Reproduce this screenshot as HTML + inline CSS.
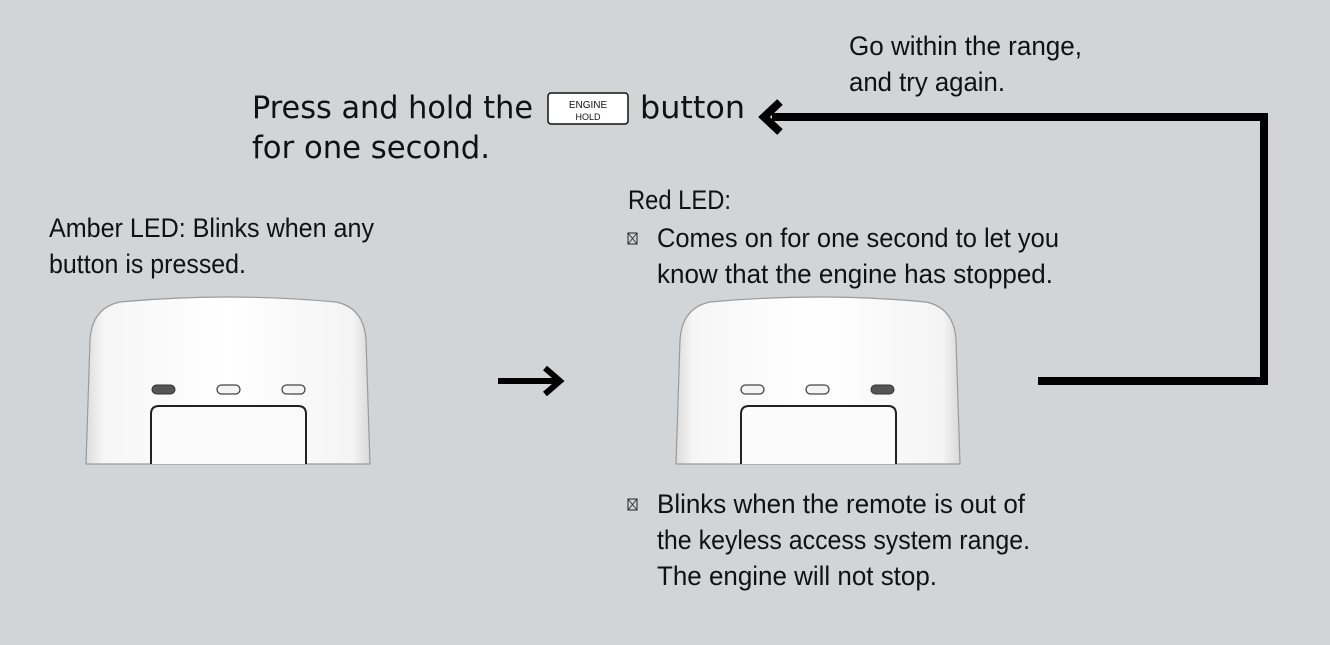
<!DOCTYPE html>
<html><head><meta charset="utf-8"><style>
html,body{margin:0;padding:0;background:#d3d4d6;}
svg{display:block}
.t{font-family:"Liberation Sans",sans-serif;fill:#111;font-size:27px;}
.h{font-family:"DejaVu Sans","Liberation Sans",sans-serif;fill:#111;font-size:31px;}
</style></head><body>
<svg width="1330" height="645" viewBox="0 0 1330 645" xmlns="http://www.w3.org/2000/svg">
<defs>
<linearGradient id="g" x1="0" x2="1" y1="0" y2="0">
<stop offset="0" stop-color="#dcdcdc"/><stop offset="0.06" stop-color="#f6f6f6"/><stop offset="0.5" stop-color="#ffffff"/><stop offset="0.94" stop-color="#f4f4f4"/><stop offset="1" stop-color="#d8d8d8"/>
</linearGradient>
</defs>
<rect width="1330" height="645" fill="#d3d4d6"/>

<!-- Left remote -->
<g>
<path d="M86,464 L90,340 Q92,308 120,302 Q228,292 336,302 Q364,308 366,340 L370,464 Z" fill="url(#g)" stroke="#9a9a9a" stroke-width="1.2"/>
<rect x="152" y="385" width="23" height="9" rx="4.5" fill="#555" stroke="#333" stroke-width="1"/>
<rect x="217" y="385" width="23" height="9" rx="4.5" fill="#f4f4f4" stroke="#444" stroke-width="1.3"/>
<rect x="282" y="385" width="23" height="9" rx="4.5" fill="#f4f4f4" stroke="#444" stroke-width="1.3"/>
<path d="M151,464 L151,414 Q151,406 159,406 L298,406 Q306,406 306,414 L306,464" fill="#fbfbfb" stroke="#222" stroke-width="2"/>
</g>
<!-- Right remote -->
<g>
<path d="M676,464 L680,340 Q682,308 710,302 Q818,292 926,302 Q954,308 956,340 L960,464 Z" fill="url(#g)" stroke="#9a9a9a" stroke-width="1.2"/>
<rect x="741" y="385" width="23" height="9" rx="4.5" fill="#f4f4f4" stroke="#444" stroke-width="1.3"/>
<rect x="806" y="385" width="23" height="9" rx="4.5" fill="#f4f4f4" stroke="#444" stroke-width="1.3"/>
<rect x="871" y="385" width="23" height="9" rx="4.5" fill="#555" stroke="#333" stroke-width="1"/>
<path d="M741,464 L741,414 Q741,406 749,406 L888,406 Q896,406 896,414 L896,464" fill="#fbfbfb" stroke="#222" stroke-width="2"/>
</g>

<!-- middle arrow -->
<line x1="498" y1="381" x2="558" y2="381" stroke="#000" stroke-width="6"/>
<polyline points="545,368 560,381 545,394" fill="none" stroke="#000" stroke-width="6"/>

<!-- feedback arrow -->
<polyline points="1038,381 1264,381 1264,117 772,117" fill="none" stroke="#000" stroke-width="8"/>
<polyline points="780,102 764,117 780,132" fill="none" stroke="#000" stroke-width="8"/>

<!-- heading -->
<text class="h" x="252" y="118" textLength="281" lengthAdjust="spacingAndGlyphs">Press and hold the</text>
<rect x="548" y="93" width="80" height="31" rx="3" fill="#fff" stroke="#111" stroke-width="1.5"/>
<text x="588" y="108" text-anchor="middle" font-family="Liberation Sans,sans-serif" font-size="10" fill="#111">ENGINE</text>
<text x="588" y="120" text-anchor="middle" font-family="Liberation Sans,sans-serif" font-size="9" fill="#111">HOLD</text>
<text class="h" x="640" y="118" textLength="105" lengthAdjust="spacingAndGlyphs">button</text>
<text class="h" x="252" y="158" textLength="238" lengthAdjust="spacingAndGlyphs">for one second.</text>

<text class="t" x="849" y="55" textLength="233" lengthAdjust="spacingAndGlyphs">Go within the range,</text>
<text class="t" x="849" y="91" textLength="156" lengthAdjust="spacingAndGlyphs">and try again.</text>

<text class="t" x="49" y="237" textLength="325" lengthAdjust="spacingAndGlyphs">Amber LED: Blinks when any</text>
<text class="t" x="49" y="273" textLength="197" lengthAdjust="spacingAndGlyphs">button is pressed.</text>

<text class="t" x="628" y="209" textLength="103" lengthAdjust="spacingAndGlyphs">Red LED:</text>
<rect x="628" y="233" width="9" height="11" fill="none" stroke="#222" stroke-width="1"/>
<path d="M628,233 L637,244 M637,233 L628,244" stroke="#222" stroke-width="0.8"/>
<text class="t" x="657" y="247" textLength="402" lengthAdjust="spacingAndGlyphs">Comes on for one second to let you</text>
<text class="t" x="657" y="283" textLength="396" lengthAdjust="spacingAndGlyphs">know that the engine has stopped.</text>

<rect x="628" y="499" width="9" height="11" fill="none" stroke="#222" stroke-width="1"/>
<path d="M628,499 L637,510 M637,499 L628,510" stroke="#222" stroke-width="0.8"/>
<text class="t" x="657" y="513" textLength="368" lengthAdjust="spacingAndGlyphs">Blinks when the remote is out of</text>
<text class="t" x="657" y="549" textLength="373" lengthAdjust="spacingAndGlyphs">the keyless access system range.</text>
<text class="t" x="657" y="585" textLength="280" lengthAdjust="spacingAndGlyphs">The engine will not stop.</text>
</svg>
</body></html>
